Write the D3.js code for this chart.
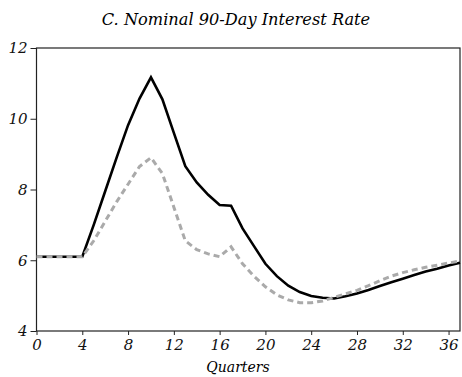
<!DOCTYPE html>
<html>
<head>
<meta charset="utf-8">
<script src="https://cdn.jsdelivr.net/npm/d3@7"></script>
<style>
  body { margin: 0; background: #fff; }
  text { font-family: "DejaVu Serif", serif; font-style: italic; }
</style>
</head>
<body>
<svg id="chart"></svg>
<script>
// quarters 0..37
const quarters = d3.range(0, 38);
const baseline = [6.1, 6.1, 6.1, 6.1, 6.1, 7.0, 7.95, 8.9, 9.82, 10.57, 11.17, 10.55, 9.6, 8.66, 8.2, 7.85,
  7.56, 7.54, 6.9, 6.4, 5.9, 5.55, 5.28, 5.1, 4.99, 4.94, 4.92, 4.98, 5.06, 5.16, 5.27, 5.38, 5.48, 5.58, 5.68, 5.76, 5.85, 5.93];
const altPath = [6.1, 6.1, 6.1, 6.1, 6.1, 6.55, 7.1, 7.65, 8.15, 8.65, 8.9, 8.45, 7.5, 6.55, 6.3, 6.18,
  6.1, 6.38, 5.9, 5.55, 5.25, 5.02, 4.88, 4.8, 4.8, 4.85, 4.95, 5.05, 5.15, 5.28, 5.42, 5.55, 5.65, 5.73, 5.8, 5.86, 5.92, 5.98];
const xTicks = [0, 4, 8, 12, 16, 20, 24, 28, 32, 36];
const yTicks = [4, 6, 8, 10, 12];

const width = 462, height = 377;
const margin = { top: 48, right: 2, bottom: 46, left: 36.5 };

const svg = d3.select("#chart").attr("width", width).attr("height", height);

const x = d3.scaleLinear().domain([0, 37]).range([margin.left, width - margin.right]);
const y = d3.scaleLinear().domain([4, 12]).range([height - margin.bottom, margin.top]);

svg.append("text")
  .attr("x", 236).attr("y", 25)
  .attr("text-anchor", "middle")
  .attr("font-size", 16.2)
  .text("C. Nominal 90-Day Interest Rate");

// frame
svg.append("rect")
  .attr("x", x(0)).attr("y", y(12))
  .attr("width", x(37) - x(0)).attr("height", y(4) - y(12))
  .attr("fill", "none").attr("stroke", "#222").attr("stroke-width", 1.2);

const xAxis = svg.append("g")
  .attr("transform", `translate(0,${y(4)})`)
  .call(d3.axisBottom(x).tickValues(xTicks).tickSize(4).tickPadding(4).tickFormat(d3.format("d")));
xAxis.select(".domain").remove();
xAxis.selectAll("line").attr("stroke", "#222");
xAxis.selectAll("text").attr("font-size", 15).attr("fill", "#111")
  .style("font-family", "DejaVu Serif").style("font-style", "italic");

const yAxis = svg.append("g")
  .attr("transform", `translate(${x(0)},0)`)
  .call(d3.axisLeft(y).tickValues(yTicks).tickSize(6).tickPadding(3).tickFormat(d3.format("d")));
yAxis.select(".domain").remove();
yAxis.selectAll("line").attr("stroke", "#222");
yAxis.selectAll("text").attr("font-size", 15).attr("fill", "#111")
  .style("font-family", "DejaVu Serif").style("font-style", "italic");

svg.append("text")
  .attr("x", 238).attr("y", 372)
  .attr("text-anchor", "middle")
  .attr("font-size", 14)
  .text("Quarters");

const line = d3.line().x((d, i) => x(quarters[i])).y(d => y(d));

svg.append("path")
  .datum(baseline)
  .attr("d", line)
  .attr("fill", "none").attr("stroke", "#000").attr("stroke-width", 2.6)
  .attr("stroke-linejoin", "miter");

svg.append("path")
  .datum(altPath)
  .attr("d", line)
  .attr("fill", "none").attr("stroke", "#aaa").attr("stroke-width", 3)
  .attr("stroke-dasharray", "6,4");
</script>
</body>
</html>
